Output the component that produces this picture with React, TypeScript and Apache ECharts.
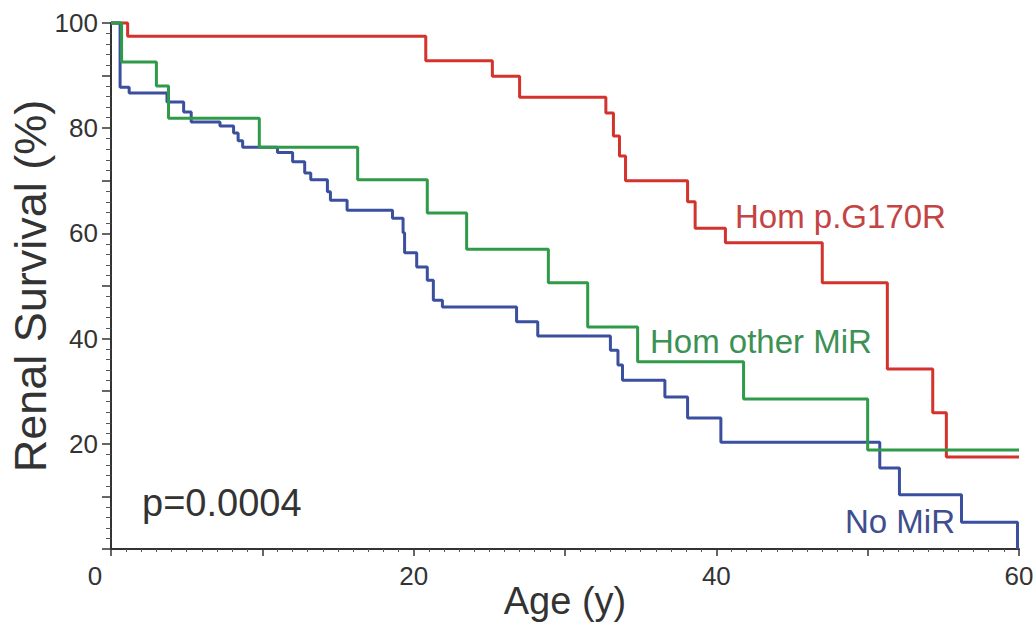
import React, { useEffect, useRef } from "react";
import * as echarts from "echarts";

// ---- Data ----
const xTickLabels = [20, 40, 60];
const yTickLabels = [20, 40, 60, 80, 100];

const homG170R_age = [0, 1.1, 20.8, 25.2, 27.0, 32.7, 33.2, 33.6, 34.0, 38.1, 38.6, 40.6, 47.0, 51.3, 54.3, 55.2, 60];
const homG170R_survival = [100, 97.5, 92.8, 89.9, 85.9, 82.9, 78.5, 74.7, 70.0, 66.0, 61.0, 58.2, 50.6, 34.2, 25.9, 17.5, 17.5];

const homOther_age = [0, 0.7, 3.0, 3.8, 9.8, 16.3, 20.9, 23.5, 28.9, 31.5, 34.8, 41.8, 50.0, 60];
const homOther_survival = [100, 92.6, 88.0, 81.9, 76.4, 70.2, 63.9, 57.0, 50.6, 42.2, 35.6, 28.5, 18.8, 18.8];

const noMiR_age = [0, 0.6, 1.2, 3.7, 4.8, 5.3, 7.2, 8.1, 8.4, 8.7, 11.0, 12.0, 12.8, 13.2, 14.3, 14.5, 15.6, 18.6, 19.3, 19.4, 20.2, 20.9, 21.3, 21.9, 26.8, 28.2, 33.0, 33.5, 33.8, 36.6, 38.1, 40.3, 50.8, 52.1, 56.2, 59.9];
const noMiR_survival = [100, 87.8, 86.7, 85.0, 83.1, 81.2, 80.4, 79.1, 77.6, 76.4, 75.4, 73.6, 71.5, 70.2, 67.9, 66.3, 64.4, 62.9, 60.1, 56.3, 53.6, 51.1, 47.3, 46.0, 43.2, 40.5, 37.8, 35.0, 32.1, 28.9, 24.9, 20.3, 15.4, 10.3, 5.1, 0];

const seriesNames = ["Hom p.G170R", "Hom other MiR", "No MiR"];
const pValueText = "p=0.0004";

const zip = (a: number[], b: number[]) => a.map((v, i) => [v, b[i]]);

const FONT = "'Liberation Sans', Arial, sans-serif";
const RED = "#d4322c";
const GREEN = "#2f9a48";
const BLUE = "#3a4f9e";

export default function App() {
  const ref = useRef<HTMLDivElement>(null);
  useEffect(() => {
    document.body.style.margin = "0";
    if (!ref.current) return;
    const chart = echarts.init(ref.current, undefined, { renderer: "svg" });
    chart.setOption({
      animation: false,
      backgroundColor: "#ffffff",
      grid: { left: 111, right: 14, top: 23, bottom: 73, containLabel: false, outerBoundsMode: "none" },
      xAxis: {
        type: "value",
        min: 0,
        max: 60,
        interval: 10,
        name: "Age (y)",
        nameLocation: "middle",
        nameGap: 33,
        nameMoveOverlap: false,
        nameTextStyle: { fontFamily: FONT, fontSize: 38, color: "#333" },
        axisLine: { show: true, onZero: false, lineStyle: { color: "#333", width: 2 } },
        axisTick: { show: true, inside: false, length: 7, lineStyle: { color: "#333", width: 1.5 } },
        minorTick: { show: true, splitNumber: 10, length: 3, lineStyle: { color: "#555", width: 1 } },
        splitLine: { show: false },
        axisLabel: {
          margin: 14,
          fontFamily: FONT,
          fontSize: 26,
          color: "#333",
          formatter: (v: number) => (xTickLabels.includes(v) ? String(v) : ""),
        },
      },
      yAxis: {
        type: "value",
        min: 0,
        max: 100,
        interval: 10,
        name: "Renal Survival (%)",
        nameLocation: "middle",
        nameGap: 58,
        nameMoveOverlap: false,
        nameTextStyle: { fontFamily: FONT, fontSize: 45, color: "#333" },
        axisLine: { show: true, onZero: false, lineStyle: { color: "#333", width: 2 } },
        axisTick: { show: true, inside: false, length: 9, lineStyle: { color: "#333", width: 1.5 } },
        minorTick: { show: true, splitNumber: 5, length: 5, lineStyle: { color: "#555", width: 1 } },
        splitLine: { show: false },
        axisLabel: {
          margin: 13,
          fontFamily: FONT,
          fontSize: 26,
          color: "#333",
          formatter: (v: number) => (yTickLabels.includes(v) ? String(v) : ""),
        },
      },
      series: [
        {
          name: seriesNames[0],
          type: "line",
          step: "end",
          symbol: "none",
          clip: false,
          lineStyle: { color: RED, width: 3 },
          data: zip(homG170R_age, homG170R_survival),
        },
        {
          name: seriesNames[2],
          type: "line",
          step: "end",
          symbol: "none",
          clip: false,
          lineStyle: { color: BLUE, width: 3 },
          data: zip(noMiR_age, noMiR_survival),
        },
        {
          name: seriesNames[1],
          type: "line",
          step: "end",
          symbol: "none",
          clip: false,
          lineStyle: { color: GREEN, width: 3 },
          data: zip(homOther_age, homOther_survival),
        },
      ],
      graphic: [
        {
          type: "text",
          x: 735,
          y: 216,
          style: { text: seriesNames[0], fontFamily: FONT, fontSize: 33, fill: "#c44444", align: "left", verticalAlign: "middle" },
        },
        {
          type: "text",
          x: 650,
          y: 341,
          style: { text: seriesNames[1], fontFamily: FONT, fontSize: 33, fill: "#3d9155", align: "left", verticalAlign: "middle" },
        },
        {
          type: "text",
          x: 845,
          y: 521,
          style: { text: seriesNames[2], fontFamily: FONT, fontSize: 33, fill: "#3f4e8e", align: "left", verticalAlign: "middle" },
        },
        {
          type: "text",
          x: 142,
          y: 503,
          style: { text: pValueText, fontFamily: FONT, fontSize: 38, fill: "#333", align: "left", verticalAlign: "middle" },
        },
        {
          type: "text",
          x: 95,
          y: 576,
          style: { text: "0", fontFamily: FONT, fontSize: 26, fill: "#333", align: "center", verticalAlign: "middle" },
        },
      ],
    });
    return () => chart.dispose();
  }, []);
  return <div ref={ref} style={{ width: 1033, height: 622 }} />;
}
